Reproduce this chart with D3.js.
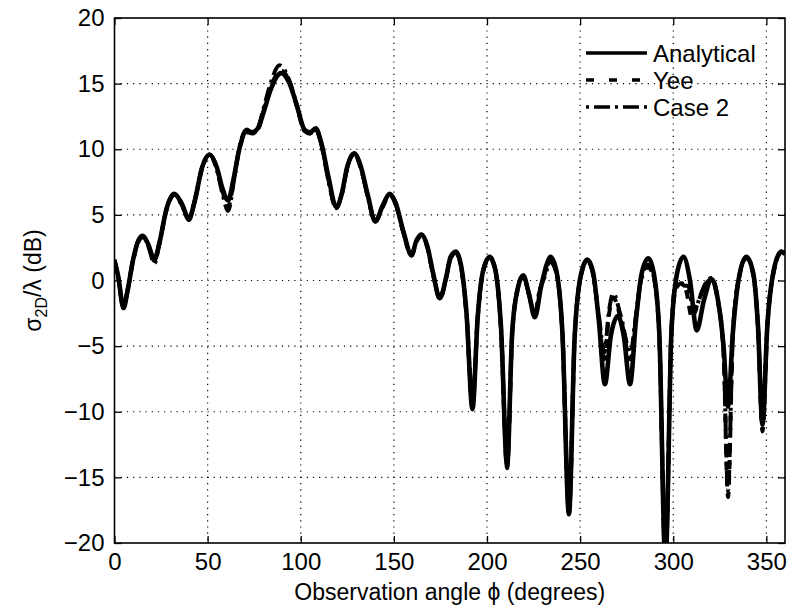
<!DOCTYPE html>
<html>
<head>
<meta charset="utf-8">
<script src="https://cdn.jsdelivr.net/npm/d3@7"></script>
<style>
    body { margin: 0; background: #fff; }
    text { font-family: "Liberation Sans", Arial, Helvetica, sans-serif; fill: #000; }
</style>
</head>
<body>
<div id="chart"></div>
<script>
// (angle in degrees, value in dB)
const angleAnalytical = [0, 2, 4.8, 7, 10, 13, 15.2, 18, 21.4, 24, 28, 32, 36, 40, 43, 47, 51, 55, 58, 61,
    64, 67, 71, 74, 77, 80, 84, 89.5, 94, 98, 102, 105, 108, 111, 115, 119, 122, 125, 128.6, 132,
    136, 140, 144, 147.7, 151, 155, 159.5, 162, 164.8, 168, 171, 174.7, 178, 180.5, 183.3, 186, 189, 192.2,
    195, 198, 201.5, 204.5, 207.5, 210.8, 213.5, 216.5, 219.4, 222.5, 225.7, 229, 232, 234, 237, 240.5,
    244, 247, 250.5, 253.9, 257, 260, 263.3, 266.5, 270.3, 273.5, 276.8, 280, 283, 286.6, 289.5, 292.5,
    295.8, 299, 302, 305.5, 309, 312.6, 316.5, 320.6, 324, 327, 329.4, 332, 335.5, 339.3, 343, 345.5,
    347.9, 350.5, 354, 358, 360];
const valueAnalytical = [1.5, 0.3, -2.1, -0.8, 1.6, 3.1, 3.4, 2.8, 1.6, 2.8, 5.5, 6.6, 5.9, 4.7, 6.0, 8.6, 9.6, 8.6, 7.0, 6.1,
    7.8, 10.0, 11.4, 11.3, 11.6, 12.8, 14.6, 15.8, 15.0, 13.3, 11.5, 11.3, 11.6, 10.5, 7.8, 5.6, 6.6, 8.7, 9.7, 8.8,
    6.5, 4.5, 5.7, 6.6, 5.9, 3.8, 1.95, 3.0, 3.5, 2.6, 0.6, -1.35, 0.2, 1.8, 2.2, 1.2, -2.5, -9.8,
    -2.8, 0.8, 1.8, 0.8, -3.5, -14.1, -4.0, -0.6, 0.4, -1.0, -2.8, -0.5, 1.2, 1.8, 0.9, -4.0,
    -17.8, -4.5, 0.5, 1.6, 0.6, -3.0, -7.9, -4.2, -2.7, -4.3, -7.9, -3.0, 0.5, 1.7, 0.6, -4.0,
    -21.5, -4.0, 0.5, 1.8, 0.0, -3.8, -1.5, 0.1, -1.5, -5.0, -9.6, -4.0, 0.4, 1.8, 0.5, -3.5,
    -11.0, -3.5, 0.8, 2.2, 2.0];

const angleYee = [0, 2, 4.8, 7, 10, 13, 15.2, 18, 21.4, 24, 28, 32, 36, 40, 43, 47, 51, 55, 58, 61,
    64, 67, 71, 74, 77, 80, 84, 89.5, 94, 98, 102, 105, 108, 111, 115, 119, 122, 125, 128.6, 132,
    136, 140, 144, 147.7, 151, 155, 159.5, 162, 164.8, 168, 171, 174.7, 178, 180.5, 183.3, 186, 189, 192.2,
    195, 198, 201.5, 204.5, 207.5, 210.8, 213.5, 216.5, 219.4, 222.5, 225.7, 228, 231, 234, 237, 240.5,
    244, 247, 250.5, 253.9, 257, 260, 263, 265.5, 267.8, 272, 277, 280, 283, 286.6, 289.5, 292.5,
    295.8, 299, 301.5, 304.5, 307, 310, 313, 316.5, 320.6, 324, 327, 329.4, 332, 335.5, 339.3, 343, 345.5,
    347.9, 350.5, 354, 358, 360];
const valueYee = [1.4, 0.2, -2.0, -0.8, 1.5, 3.0, 3.3, 2.7, 1.5, 2.8, 5.4, 6.5, 5.8, 4.6, 6.0, 8.5, 9.6, 8.5, 6.8, 5.6,
    7.6, 10.0, 11.3, 11.2, 11.5, 12.9, 14.8, 16.0, 15.1, 13.2, 11.4, 11.2, 11.5, 10.4, 7.6, 5.5, 6.5, 8.6, 9.6, 8.7,
    6.4, 4.5, 5.6, 6.5, 5.8, 3.7, 1.9, 2.9, 3.4, 2.5, 0.5, -1.4, 0.1, 1.7, 2.1, 1.1, -2.6, -9.6,
    -2.9, 0.7, 1.7, 0.7, -3.6, -14.3, -4.2, -0.7, 0.3, -1.0, -2.6, -1.0, 0.5, 1.5, 0.8, -4.0,
    -17.6, -4.6, 0.4, 1.5, 0.5, -2.8, -6.0, -2.6, -1.3, -3.0, -6.0, -2.8, 0.2, 1.0, 0.2, -4.2,
    -21.5, -4.0, -0.6, -0.2, -0.8, -2.8, -1.8, -0.5, 0.1, -1.6, -5.5, -16.5, -4.2, 0.3, 1.7, 0.4, -3.6,
    -11.5, -3.6, 0.7, 2.1, 2.0];

const angleCase2 = [0, 2, 4.8, 7, 10, 13, 15.2, 18, 21.4, 24, 28, 32, 36, 40, 43, 47, 51, 55, 58, 61,
    64, 67, 71, 74, 77, 80, 84, 88.5, 94, 98, 102, 105, 108, 111, 115, 119, 122, 125, 128.6, 132,
    136, 140, 144, 147.7, 151, 155, 159.5, 162, 164.8, 168, 171, 174.7, 178, 180.5, 183.3, 186, 189, 192.2,
    195, 198, 201.5, 204.5, 207.5, 210.8, 213.5, 216.5, 219.4, 222.5, 225.7, 228, 231, 234, 237, 240.5,
    244, 247, 250.5, 253.9, 257, 260, 263, 265.5, 267.8, 272, 277, 280, 283, 286.6, 289.5, 292.5,
    295.8, 299, 301, 303.5, 306, 308, 311, 314, 317, 320.6, 324, 327, 329.4, 332, 335.5, 339.3, 343, 345.5,
    347.9, 350.5, 354, 358, 360];
const valueCase2 = [1.6, 0.3, -2.0, -0.7, 1.6, 3.1, 3.4, 2.7, 1.3, 2.7, 5.5, 6.6, 5.8, 4.7, 6.1, 8.6, 9.6, 8.4, 6.6, 5.3,
    7.5, 10.1, 11.5, 11.2, 11.6, 13.1, 15.1, 16.4, 15.2, 13.3, 11.4, 11.2, 11.6, 10.4, 7.5, 5.5, 6.6, 8.6, 9.7, 8.7,
    6.4, 4.5, 5.7, 6.6, 5.8, 3.7, 1.9, 3.0, 3.5, 2.5, 0.5, -1.3, 0.2, 1.8, 2.1, 1.1, -2.6, -9.5,
    -2.8, 0.8, 1.8, 0.8, -3.6, -14.0, -4.1, -0.6, 0.3, -1.1, -2.7, -0.9, 0.3, 1.4, 0.7, -4.1,
    -17.7, -4.5, 0.4, 1.5, 0.4, -2.6, -5.5, -2.3, -1.0, -2.8, -5.5, -2.6, 0.3, 1.2, 0.3, -4.1,
    -21.5, -3.8, -0.5, -0.1, -0.4, -0.4, -2.5, -1.4, -0.3, 0.2, -1.5, -5.3, -16.0, -4.0, 0.4, 1.8, 0.5, -3.5,
    -10.8, -3.4, 0.8, 2.2, 2.1];

const xTicks = [0, 50, 100, 150, 200, 250, 300, 350];
const yTicks = [-20, -15, -10, -5, 0, 5, 10, 15, 20];
const legendLabels = ['Analytical', 'Yee', 'Case 2'];

const width = 793, height = 612;
const margin = { top: 18, right: 8, bottom: 69, left: 114.5 };
const innerW = width - margin.left - margin.right;
const innerH = height - margin.top - margin.bottom;

const svg = d3.select('#chart')
    .append('svg')
    .attr('width', width)
    .attr('height', height);

const g = svg.append('g')
    .attr('transform', `translate(${margin.left}, ${margin.top})`);

const x = d3.scaleLinear().domain([0, 360]).range([0, innerW]);
const y = d3.scaleLinear().domain([-20, 20]).range([innerH, 0]);

// dotted grid
g.append('g')
    .selectAll('line')
    .data(xTicks.filter(d => d > 0))
    .enter().append('line')
    .attr('x1', d => x(d)).attr('x2', d => x(d))
    .attr('y1', 0).attr('y2', innerH)
    .attr('stroke', '#000').attr('stroke-width', 1.2)
    .attr('stroke-dasharray', '1.2,5');

g.append('g')
    .selectAll('line')
    .data(yTicks.filter(d => d > -20 && d < 20))
    .enter().append('line')
    .attr('x1', 0).attr('x2', innerW)
    .attr('y1', d => y(d)).attr('y2', d => y(d))
    .attr('stroke', '#000').attr('stroke-width', 1.2)
    .attr('stroke-dasharray', '1.2,5');

// axes with inward ticks
const tickLen = 7;
g.append('g')
    .attr('transform', `translate(0, ${innerH})`)
    .call(d3.axisBottom(x).tickValues(xTicks).tickSizeInner(-tickLen).tickSizeOuter(0).tickPadding(10));
g.append('g')
    .call(d3.axisTop(x).tickValues(xTicks).tickSizeInner(-tickLen).tickSizeOuter(0).tickFormat(''));
g.append('g')
    .call(d3.axisLeft(y).tickValues(yTicks).tickSizeInner(-tickLen).tickSizeOuter(0).tickPadding(10)
        .tickFormat(d => d < 0 ? '\u2212' + Math.abs(d) : d));
g.append('g')
    .attr('transform', `translate(${innerW}, 0)`)
    .call(d3.axisRight(y).tickValues(yTicks).tickSizeInner(-tickLen).tickSizeOuter(0).tickFormat(''));

g.selectAll('.domain').remove();
g.selectAll('.tick line').attr('stroke', '#000').attr('stroke-width', 1.3);
g.selectAll('.tick text').attr('font-size', 24).attr('fill', '#000')
    .style('font-family', '"Liberation Sans", Arial, sans-serif');

g.append('rect')
    .attr('width', innerW).attr('height', innerH)
    .attr('fill', 'none').attr('stroke', '#000').attr('stroke-width', 1.6);

// curves
svg.append('defs').append('clipPath').attr('id', 'plot-clip')
    .append('rect').attr('width', innerW).attr('height', innerH);

const line = d3.line()
    .x(d => x(d[0]))
    .y(d => y(d[1]))
    .curve(d3.curveMonotoneX);

const series = [
    { name: legendLabels[0], pts: d3.zip(angleAnalytical, valueAnalytical), dash: null, w: 4.6 },
    { name: legendLabels[1], pts: d3.zip(angleYee, valueYee), dash: '9,7', w: 4 },
    { name: legendLabels[2], pts: d3.zip(angleCase2, valueCase2), dash: '14,5,3,5', w: 4 }
];

const plot = g.append('g').attr('clip-path', 'url(#plot-clip)');
series.forEach(s => {
    plot.append('path')
        .attr('d', line(s.pts))
        .attr('fill', 'none')
        .attr('stroke', '#000')
        .attr('stroke-width', s.w)
        .attr('stroke-linejoin', 'round')
        .attr('stroke-dasharray', s.dash);
});

// legend (no box, grid shows through)
const legend = g.append('g').attr('transform', `translate(${586 - margin.left}, ${53 - margin.top})`);
const legendDash = [null, '8,15', '3,5,16,5'];
legendLabels.forEach((name, i) => {
    const row = legend.append('g').attr('transform', `translate(0, ${i * 27})`);
    row.append('line')
        .attr('x1', 0).attr('x2', 61).attr('y1', 0).attr('y2', 0)
        .attr('stroke', '#000').attr('stroke-width', 3.5)
        .attr('stroke-dasharray', legendDash[i]);
    row.append('text')
        .attr('x', 67).attr('y', 0).attr('dy', '0.36em')
        .attr('font-size', 24)
        .text(name);
});

// axis titles
svg.append('text')
    .attr('x', margin.left + innerW / 2)
    .attr('y', 600)
    .attr('text-anchor', 'middle')
    .attr('font-size', 23)
    .text('Observation angle \u03d5 (degrees)');

const yTitle = svg.append('text')
    .attr('transform', `translate(41, ${margin.top + innerH / 2}) rotate(-90)`)
    .attr('text-anchor', 'middle')
    .attr('font-size', 23);
yTitle.append('tspan').text('\u03c3');
yTitle.append('tspan').attr('font-size', 16).attr('dy', 6).text('2D');
yTitle.append('tspan').attr('dy', -6).text('/\u03bb (dB)');
</script>
</body>
</html>
